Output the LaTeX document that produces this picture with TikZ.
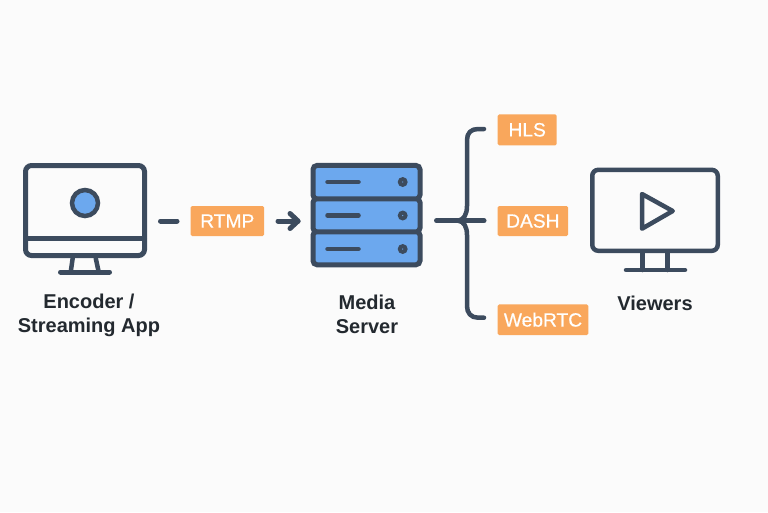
\documentclass[tikz,border=0pt]{standalone}
\usepackage{fontspec}
\setmainfont{Liberation Sans}
\newfontfamily\tagfont[FakeBold=0.6]{Liberation Sans}
\definecolor{bgc}{HTML}{FBFBFB}
\definecolor{ink}{HTML}{3C4B5E}
\definecolor{orangec}{HTML}{F9A75C}
\definecolor{bluec}{HTML}{6CA8EE}
\definecolor{textc}{HTML}{23292F}
\tikzset{
  line/.style={draw=ink,line width=#1,line cap=round,line join=round},
  line/.default=5pt,
  tagbox/.style={fill=orangec,rounded corners=1.5pt,text=white,font=\tagfont\fontsize{19.2}{22}\selectfont,inner sep=0pt,anchor=center},
  caption/.style={text=textc,font=\bfseries\fontsize{20}{24}\selectfont,align=center,inner sep=0pt},
  screen/.style={draw=ink,rounded corners=6pt,inner sep=0pt},
  rack/.style={draw=ink,fill=bluec,line width=5pt,rounded corners=4pt,minimum width=107pt,minimum height=33.5pt,inner sep=0pt},
}
\begin{document}
\begin{tikzpicture}[x=1pt,y=-1pt]
\path[use as bounding box,fill=bgc] (0,0) rectangle (768,512);
% encoder monitor
\node[screen,line width=5pt,minimum width=119pt,minimum height=90pt] (enc) at (85,210.5) {};
\coordinate (encdl) at (25.5,238);
\coordinate (encdr) at (144.5,238);
\draw[line] (encdl) -- (encdr);
\node[circle,draw=ink,fill=bluec,line width=4.5pt,minimum size=26pt,inner sep=0pt] (lens) at (85,203) {};
\coordinate (encsl) at (72.7,258);
\coordinate (encsr) at (95.7,258);
\coordinate (encfl) at (70.7,272);
\coordinate (encfr) at (98.7,272);
\coordinate (encbl) at (60.5,272);
\coordinate (encbr) at (109.5,272);
\draw[line=4.5pt] (encsl) -- (encfl);
\draw[line=4.5pt] (encsr) -- (encfr);
\draw[line] (encbl) -- (encbr);
\node[caption] (enclabel) at (89,315) {Encoder /\\Streaming App};
% rtmp
\node[tagbox,minimum width=73.5pt,minimum height=30pt] (rtmp) at (227.3,221) {RTMP};
\coordinate (dasha) at (160.5,221);
\coordinate (dashb) at (177,221);
\draw[line] (dasha) -- (dashb);
% server
\node[rack] (srvb) at (366.5,248) {};
\node[rack] (srvm) at (366.5,215.2) {};
\node[rack] (srvt) at (366.5,182.2) {};
\foreach \n/\yy in {a/182,b/215.5,c/249}{
  \coordinate (slot\n l) at (327.5,\yy);
  \coordinate (slot\n r) at (358.5,\yy);
  \draw[line=4.5pt] (slot\n l) -- (slot\n r);
  \node[circle,fill=ink,minimum size=10pt,inner sep=0pt] (led\n) at (402.7,\yy) {};
  \fill[bluec] (led\n) circle (0.7pt);
}
\node[caption] (srvlabel) at (367,314) {Media\\Server};
\coordinate (arra) at (278,221);
\coordinate (arrb) at (298,221);
\coordinate (arrc) at (290,213.5);
\coordinate (arrd) at (290,228.5);
\draw[line] (arra) -- (arrb);
\draw[line] (arrc) -- (arrb) -- (arrd);
% brace
\coordinate (stema) at (436.5,220.7);
\coordinate (stemb) at (484,220.7);
\coordinate (bracet) at (484,129);
\coordinate (braceb) at (484,317.7);
\coordinate (bracem) at (458,220.7);
\draw[line] (stema) -- (stemb);
\draw[line=4.5pt] (bracet) -- (478,129) .. controls (471,129) and (467,133) .. (467,140)
  -- (467,206) .. controls (467,214) and (464,220) .. (bracem)
  .. controls (464,221) and (467,227) .. (467,235)
  -- (467,306) .. controls (467,313) and (471,317.7) .. (478,317.7) -- (braceb);
% tags
\node[tagbox,minimum width=59pt,minimum height=31pt] (hls) at (527.2,129.8) {HLS};
\node[tagbox,minimum width=70.3pt,minimum height=30pt] (dash) at (532.85,221) {DASH};
\node[tagbox,minimum width=90.6pt,minimum height=30.7pt] (webrtc) at (543,319.7) {WebRTC};
% viewer monitor
\node[screen,line width=4.5pt,minimum width=125.5pt,minimum height=81pt] (view) at (655,210.3) {};
\coordinate (pa) at (642,194);
\coordinate (pb) at (642,228.7);
\coordinate (pc) at (672.7,211);
\draw[line=4.5pt] (pa) -- (pb) -- (pc) -- cycle;
\coordinate (vsl) at (642.7,253);
\coordinate (vsr) at (667.7,253);
\coordinate (vfl) at (642.7,270);
\coordinate (vfr) at (667.7,270);
\coordinate (vbl) at (626,270);
\coordinate (vbr) at (685,270);
\draw[line=4.5pt] (vsl) -- (vfl);
\draw[line=4.5pt] (vsr) -- (vfr);
\draw[line=4.5pt] (vbl) -- (vbr);
\node[caption] (viewlabel) at (655,303) {Viewers};
\end{tikzpicture}
\end{document}
